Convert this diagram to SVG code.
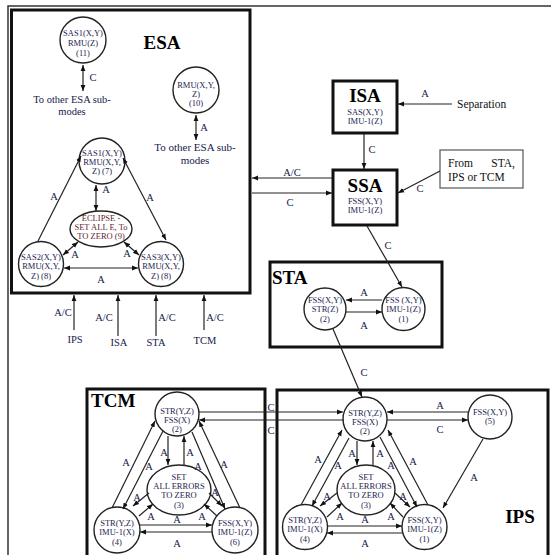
<svg xmlns="http://www.w3.org/2000/svg" width="551" height="555" viewBox="0 0 551 555">
<defs>
<marker id="ah" viewBox="0 0 10 10" refX="10" refY="5" markerWidth="6" markerHeight="6" markerUnits="userSpaceOnUse" orient="auto-start-reverse"><path d="M0,1 L10,5 L0,9 z" fill="#111"/></marker>
<style>
.box{fill:none;stroke:#111;stroke-width:3}
.thin{fill:#fff;stroke:#555;stroke-width:1.2}
.nd{fill:#fff;stroke:#222;stroke-width:1.4}
.ln{fill:none;stroke:#222;stroke-width:1.2}
.a1{marker-end:url(#ah)}
.a2{marker-start:url(#ah);marker-end:url(#ah)}
.t{font-family:"Liberation Serif","Times New Roman",serif;text-anchor:middle}
.nt{font-size:8.5px;fill:#24244f}
.ec{font-size:8.5px;fill:#5e1f30}
.lb{font-size:10.5px;fill:#141a48}
.big{font-size:11px;fill:#141a48}
.ttl{font-size:19px;font-weight:bold;fill:#000}
</style>
</defs>
<rect x="0" y="0" width="551" height="555" fill="#fff"/>
<!-- outer frame -->
<path d="M8,560 V6 H560" fill="none" stroke="#333" stroke-width="1.5"/>

<!-- containers -->
<g id="ESA">
<rect class="box" x="11.5" y="10" width="238.5" height="283"/>
<text class="t ttl" x="162" y="49">ESA</text>
</g>
<g id="ISA">
<rect class="box" x="333" y="81" width="64" height="52"/>
<text class="t ttl" x="365" y="102">ISA</text>
<text class="t nt" x="365" y="115">SAS(X,Y)</text>
<text class="t nt" x="365" y="124">IMU-1(Z)</text>
</g>
<g id="SSA">
<rect class="box" x="333" y="170" width="64" height="55"/>
<text class="t ttl" x="365" y="192">SSA</text>
<text class="t nt" x="365" y="204">FSS(X,Y)</text>
<text class="t nt" x="365" y="213">IMU-1(Z)</text>
</g>
<g id="FromBox">
<rect class="thin" x="440" y="150" width="83" height="38"/>
<text x="448" y="167" font-family="Liberation Serif, serif" font-size="11.5" fill="#111">From</text>
<text x="515" y="167" font-family="Liberation Serif, serif" font-size="11.5" fill="#111" text-anchor="end">STA,</text>
<text x="448" y="181" font-family="Liberation Serif, serif" font-size="11.5" fill="#111">IPS or TCM</text>
</g>
<g id="STA">
<rect class="box" x="270" y="262" width="172" height="85"/>
<text x="272" y="284" font-family="Liberation Serif, serif" font-size="19" font-weight="bold">STA</text>
</g>
<g id="TCM">
<rect class="box" x="87" y="389" width="178" height="180"/>
<text x="91" y="407" font-family="Liberation Serif, serif" font-size="19" font-weight="bold">TCM</text>
</g>
<g id="IPS">
<rect class="box" x="277" y="390" width="271" height="180"/>
<text class="t ttl" x="520" y="523">IPS</text>
</g>

<!-- ESA nodes -->
<g id="esa-n11">
<circle class="nd" cx="83" cy="40" r="23"/>
<text class="t nt" x="83" y="36">SAS1(X,Y)</text>
<text class="t nt" x="83" y="46">RMU(Z)</text>
<text class="t nt" x="83" y="56">(11)</text>
</g>
<g id="esa-n10">
<circle class="nd" cx="196" cy="90" r="23"/>
<text class="t nt" x="196" y="88">RMU(X,Y,</text>
<text class="t nt" x="196" y="97">Z)</text>
<text class="t nt" x="196" y="106">(10)</text>
</g>
<g id="esa-n7">
<circle class="nd" cx="102" cy="161" r="23"/>
<text class="t nt" x="102" y="156">SAS1(X,Y)</text>
<text class="t nt" x="102" y="165">RMU(X,Y,</text>
<text class="t nt" x="102" y="174">Z) (7)</text>
</g>
<g id="esa-n9">
<ellipse class="nd" cx="101" cy="229" rx="31" ry="18"/>
<text class="t ec" x="101" y="221">ECLIPSE -</text>
<text class="t ec" x="101" y="230">SET ALL E, To</text>
<text class="t ec" x="101" y="239">TO ZERO (9)</text>
</g>
<g id="esa-n8a">
<circle class="nd" cx="41" cy="264" r="22.5"/>
<text class="t nt" x="41" y="260">SAS2(X,Y)</text>
<text class="t nt" x="41" y="269">RMU(X,Y,</text>
<text class="t nt" x="41" y="279">Z) (8)</text>
</g>
<g id="esa-n8b">
<circle class="nd" cx="161" cy="264" r="22.5"/>
<text class="t nt" x="161" y="260">SAS3(X,Y)</text>
<text class="t nt" x="161" y="269">RMU(X,Y,</text>
<text class="t nt" x="161" y="279">Z) (8)</text>
</g>

<!-- STA nodes -->
<g id="sta-n2">
<circle class="nd" cx="325" cy="309" r="21"/>
<text class="t nt" x="325" y="303">FSS(X,Y)</text>
<text class="t nt" x="325" y="312">STR(Z)</text>
<text class="t nt" x="325" y="322">(2)</text>
</g>
<g id="sta-n1">
<circle class="nd" cx="403.5" cy="309" r="21.5"/>
<text class="t nt" x="403.5" y="303">FSS (X,Y)</text>
<text class="t nt" x="403.5" y="312">IMU-1(Z)</text>
<text class="t nt" x="403.5" y="322">(1)</text>
</g>

<!-- TCM nodes -->
<g id="tcm-n2">
<circle class="nd" cx="177" cy="414" r="22"/>
<text class="t nt" x="177" y="414">STR(Y,Z)</text>
<text class="t nt" x="177" y="423">FSS(X)</text>
<text class="t nt" x="177" y="432">(2)</text>
</g>
<g id="tcm-n3">
<ellipse class="nd" cx="179" cy="490" rx="32" ry="25"/>
<text class="t nt" x="179" y="480">SET</text>
<text class="t nt" x="179" y="489">ALL ERRORS</text>
<text class="t nt" x="179" y="498">TO ZERO</text>
<text class="t nt" x="179" y="508">(3)</text>
</g>
<g id="tcm-n4">
<circle class="nd" cx="117" cy="530" r="23"/>
<text class="t nt" x="117" y="526">STR(Y,Z)</text>
<text class="t nt" x="117" y="535">IMU-1(X)</text>
<text class="t nt" x="117" y="545">(4)</text>
</g>
<g id="tcm-n6">
<circle class="nd" cx="235" cy="530" r="23"/>
<text class="t nt" x="235" y="526">FSS(X,Y)</text>
<text class="t nt" x="235" y="535">IMU-1(Z)</text>
<text class="t nt" x="235" y="545">(6)</text>
</g>

<!-- IPS nodes -->
<g id="ips-n2">
<circle class="nd" cx="365" cy="419" r="22"/>
<text class="t nt" x="365" y="416">STR(Y,Z)</text>
<text class="t nt" x="365" y="425">FSS(X)</text>
<text class="t nt" x="365" y="434">(2)</text>
</g>
<g id="ips-n3">
<ellipse class="nd" cx="366" cy="490" rx="29" ry="25"/>
<text class="t nt" x="366" y="480">SET</text>
<text class="t nt" x="366" y="489">ALL ERRORS</text>
<text class="t nt" x="366" y="498">TO ZERO</text>
<text class="t nt" x="366" y="508">(3)</text>
</g>
<g id="ips-n4">
<circle class="nd" cx="305" cy="527" r="22.5"/>
<text class="t nt" x="305" y="523">STR(Y,Z)</text>
<text class="t nt" x="305" y="532">IMU-1(X)</text>
<text class="t nt" x="305" y="542">(4)</text>
</g>
<g id="ips-n1">
<circle class="nd" cx="424.5" cy="527" r="22.5"/>
<text class="t nt" x="424.5" y="523">FSS(X,Y)</text>
<text class="t nt" x="424.5" y="532">IMU-1(Z)</text>
<text class="t nt" x="424.5" y="542">(1)</text>
</g>
<g id="ips-n5">
<circle class="nd" cx="490" cy="417" r="22"/>
<text class="t nt" x="490" y="415">FSS(X,Y)</text>
<text class="t nt" x="490" y="424">(5)</text>
</g>

<!-- plain texts -->
<g id="texts">
<text class="t lb" x="72" y="103">To other ESA sub-</text>
<text class="t lb" x="72" y="115">modes</text>
<text class="t big" x="195" y="151">To other ESA sub-</text>
<text class="t big" x="195" y="164">modes</text>
<text x="457" y="108" font-family="Liberation Serif, serif" font-size="11.5" fill="#111">Separation</text>
<text class="t lb" x="75" y="343">IPS</text>
<text class="t lb" x="119" y="346">ISA</text>
<text class="t lb" x="156" y="346">STA</text>
<text class="t lb" x="205" y="344">TCM</text>
</g>

<!-- connectors -->
<g id="connectors">
<!-- ESA -->
<line class="ln a2" x1="83" y1="65" x2="83" y2="91"/>
<text class="t lb" x="93" y="81">C</text>
<line class="ln a2" x1="196" y1="115" x2="196" y2="140"/>
<text class="t lb" x="204" y="131">A</text>
<line class="ln a1" x1="38" y1="241" x2="81" y2="156"/>
<text class="t lb" x="54" y="200">A</text>
<line class="ln a2" x1="123" y1="158" x2="166" y2="240"/>
<text class="t lb" x="150" y="201">A</text>
<line class="ln a2" x1="96" y1="185" x2="96" y2="211"/>
<text class="t lb" x="106" y="193">A</text>
<line class="ln a2" x1="63" y1="255" x2="78" y2="242"/>
<text class="t lb" x="75" y="258">A</text>
<line class="ln a2" x1="139" y1="255" x2="124" y2="242"/>
<text class="t lb" x="127" y="257">A</text>
<line class="ln a2" x1="64" y1="268" x2="138" y2="268"/>
<text class="t lb" x="101" y="283">A</text>
<!-- inputs to ESA -->
<line class="ln a1" x1="74" y1="330" x2="74" y2="295"/>
<text class="t lb" x="63" y="316">A/C</text>
<line class="ln a1" x1="118" y1="336" x2="118" y2="295"/>
<text class="t lb" x="104" y="321">A/C</text>
<line class="ln a1" x1="156" y1="336" x2="156" y2="295"/>
<text class="t lb" x="167" y="321">A/C</text>
<line class="ln a1" x1="204" y1="330" x2="204" y2="295"/>
<text class="t lb" x="215" y="321">A/C</text>
<!-- ISA/SSA -->
<line class="ln a1" x1="452" y1="104" x2="398" y2="104"/>
<text class="t lb" x="425" y="97">A</text>
<line class="ln a1" x1="364" y1="134" x2="364" y2="169"/>
<text class="t lb" x="372" y="153">C</text>
<line class="ln a1" x1="440" y1="171" x2="398" y2="193"/>
<text class="t lb" x="420" y="192">C</text>
<line class="ln a1" x1="332" y1="178" x2="252" y2="178"/>
<text class="t lb" x="292" y="176">A/C</text>
<line class="ln a1" x1="252" y1="193" x2="332" y2="193"/>
<text class="t lb" x="290" y="206">C</text>
<line class="ln a1" x1="367" y1="226" x2="402" y2="287"/>
<text class="t lb" x="388" y="249">C</text>
<!-- STA -->
<line class="ln a1" x1="382" y1="300" x2="346" y2="300"/>
<text class="t lb" x="364" y="296">A</text>
<line class="ln a1" x1="346" y1="312" x2="382" y2="312"/>
<text class="t lb" x="364" y="329">A</text>
<line class="ln a1" x1="333" y1="329" x2="362" y2="397"/>
<text class="t lb" x="364" y="376">C</text>
<!-- TCM <-> IPS -->
<line class="ln a1" x1="199" y1="412" x2="343" y2="412"/>
<line class="ln a1" x1="344" y1="420" x2="199" y2="420"/>
<text class="t lb" x="271" y="411">C</text>
<text class="t lb" x="271" y="434">C</text>
<!-- TCM internal -->
<line class="ln a1" x1="112" y1="508" x2="155" y2="421"/>
<text class="t lb" x="126" y="466">A</text>
<line class="ln a1" x1="163" y1="431" x2="123" y2="509"/>
<text class="t lb" x="149" y="470">A</text>
<line class="ln a1" x1="168" y1="436" x2="168" y2="465"/>
<text class="t lb" x="164" y="456">A</text>
<line class="ln a1" x1="184" y1="465" x2="184" y2="436"/>
<text class="t lb" x="190" y="456">A</text>
<line class="ln a1" x1="192" y1="432" x2="225" y2="509"/>
<text class="t lb" x="198" y="470">A</text>
<line class="ln a1" x1="240" y1="508" x2="199" y2="421"/>
<text class="t lb" x="224" y="468">A</text>
<line class="ln a1" x1="149" y1="493" x2="133" y2="506"/>
<text class="t lb" x="137" y="501">A</text>
<line class="ln a1" x1="139" y1="516" x2="153" y2="504"/>
<text class="t lb" x="151" y="520">A</text>
<line class="ln a1" x1="209" y1="493" x2="222" y2="506"/>
<text class="t lb" x="215" y="496">A</text>
<line class="ln a1" x1="217" y1="516" x2="204" y2="504"/>
<text class="t lb" x="202" y="520">A</text>
<line class="ln a1" x1="140" y1="525" x2="212" y2="525"/>
<text class="t lb" x="177" y="523">A</text>
<line class="ln a1" x1="212" y1="532" x2="140" y2="532"/>
<text class="t lb" x="177" y="547">A</text>
<!-- IPS internal -->
<line class="ln a1" x1="468" y1="412" x2="387" y2="412"/>
<text class="t lb" x="440" y="409">A</text>
<line class="ln a1" x1="387" y1="420" x2="468" y2="420"/>
<text class="t lb" x="440" y="433">C</text>
<line class="ln a1" x1="483" y1="439" x2="443" y2="508"/>
<text class="t lb" x="474" y="481">A</text>
<line class="ln a1" x1="301" y1="505" x2="342" y2="430"/>
<text class="t lb" x="318" y="463">A</text>
<line class="ln a1" x1="349" y1="438" x2="312" y2="506"/>
<text class="t lb" x="338" y="469">A</text>
<line class="ln a1" x1="357" y1="441" x2="357" y2="465"/>
<text class="t lb" x="352" y="457">A</text>
<line class="ln a1" x1="373" y1="465" x2="373" y2="441"/>
<text class="t lb" x="380" y="457">A</text>
<line class="ln a1" x1="380" y1="437" x2="417" y2="507"/>
<text class="t lb" x="391" y="469">A</text>
<line class="ln a1" x1="428" y1="505" x2="388" y2="430"/>
<text class="t lb" x="413" y="465">A</text>
<line class="ln a1" x1="337" y1="493" x2="320" y2="506"/>
<text class="t lb" x="327" y="500">A</text>
<line class="ln a1" x1="327" y1="517" x2="342" y2="503"/>
<text class="t lb" x="340" y="520">A</text>
<line class="ln a1" x1="395" y1="493" x2="410" y2="507"/>
<text class="t lb" x="403" y="500">A</text>
<line class="ln a1" x1="403" y1="517" x2="390" y2="503"/>
<text class="t lb" x="391" y="520">A</text>
<line class="ln a1" x1="327" y1="526" x2="402" y2="526"/>
<text class="t lb" x="365" y="523">A</text>
<line class="ln a1" x1="402" y1="533" x2="327" y2="533"/>
<text class="t lb" x="365" y="547">A</text>
</g>
</svg>
